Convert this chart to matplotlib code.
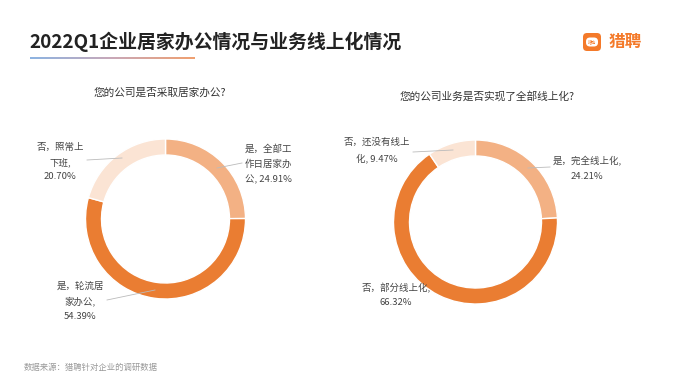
import numpy as np
import matplotlib
matplotlib.use("Agg")
from matplotlib import pyplot as plt
from matplotlib.patches import FancyBboxPatch
from matplotlib.colors import LinearSegmentedColormap

plt.rcParams['font.family'] = ['Noto Sans CJK SC', 'DejaVu Sans']

# data
left_labels = ['是，全部工\n作日居家办\n公, 24.91%', '是，轮流居\n家办公,\n54.39%', '否，照常上\n下班,\n20.70%']
left_values = [24.91, 54.39, 20.70]
right_labels = ['是，完全线上化,\n24.21%', '否，部分线上化,\n66.32%', '否，还没有线上\n化, 9.47%']
right_values = [24.21, 66.32, 9.47]
colors = ['#F3B184', '#EA7D32', '#FBE4D4']

W, H = 681, 383
fig = plt.figure(figsize=(W / 100, H / 100), dpi=100)
ax = fig.add_axes([0, 0, 1, 1])
ax.set_xlim(0, W)
ax.set_ylim(0, H)
ax.set_aspect('equal')
ax.axis('off')

def Y(y):
    return H - y

# title
ax.text(29, Y(42), '2022Q1企业居家办公情况与业务线上化情况', fontsize=13.6, fontweight='bold',
        color='#222222', va='center', ha='left')
# gradient underline
grad = np.linspace(0, 1, 200).reshape(1, -1)
cm = LinearSegmentedColormap.from_list('u', ['#8DB4E2', '#C9A8B8', '#F0A070'])
ax.imshow(grad, extent=(30, 195, Y(59), Y(57.5)), cmap=cm, aspect='auto', zorder=3)

# logo
ax.add_patch(FancyBboxPatch((583, Y(51)), 18, 18, boxstyle='round,pad=0,rounding_size=4',
                            fc='#F47A2A', ec='none'))
ax.add_patch(FancyBboxPatch((586, Y(46.5)), 12, 9, boxstyle='round,pad=0,rounding_size=4',
                            fc='white', ec='none'))
ax.text(592, Y(42), '猎聘', fontsize=3, color='#F47A2A', va='center', ha='center')
ax.text(609, Y(42), '猎聘', fontsize=12, color='#F47A2A', va='center', ha='left', fontweight='bold')

# subtitles
ax.text(159.5, Y(93), '您的公司是否采取居家办公?', fontsize=7.7, color='#333333', ha='center', va='center')
ax.text(487.5, Y(96), '您的公司业务是否实现了全部线上化?', fontsize=7.7, color='#333333', ha='center', va='center')

# donuts
pie_kw = dict(startangle=90, counterclock=False, colors=colors,
              wedgeprops=dict(width=16, edgecolor='white', linewidth=1))
ax.pie(left_values, center=(165.5, Y(219)), radius=80, **pie_kw)
ax.pie(right_values, center=(475.5, Y(222)), radius=82, **pie_kw)
ax.set_xlim(0, W)
ax.set_ylim(0, H)

lab_kw = dict(fontsize=6.8, color='#444444', ha='center', va='center', linespacing=1.75)
line_kw = dict(color='#BBBBBB', lw=0.6)

# left labels
ax.text(268, Y(164), left_labels[0], **lab_kw)
ax.plot([217, 242], [Y(168), Y(163)], **line_kw)
ax.text(80, Y(301), left_labels[1], **lab_kw)
ax.plot([107, 155], [Y(300), Y(290)], **line_kw)
ax.text(60, Y(162), left_labels[2], **lab_kw)
ax.plot([87, 122], [Y(160), Y(158)], **line_kw)

# right labels
ax.text(587, Y(168.5), right_labels[0], **lab_kw)
ax.plot([528, 550], [Y(168), Y(167)], **line_kw)
ax.text(396, Y(295), right_labels[1], **lab_kw)
ax.text(377, Y(150.5), right_labels[2], **lab_kw)
ax.plot([413, 453], [Y(152), Y(150)], **line_kw)

# footer
ax.text(24, Y(367), '数据来源：猎聘针对企业的调研数据', fontsize=6, color='#999999', ha='left', va='center')

fig.savefig('out.png', dpi=100, facecolor='white')
